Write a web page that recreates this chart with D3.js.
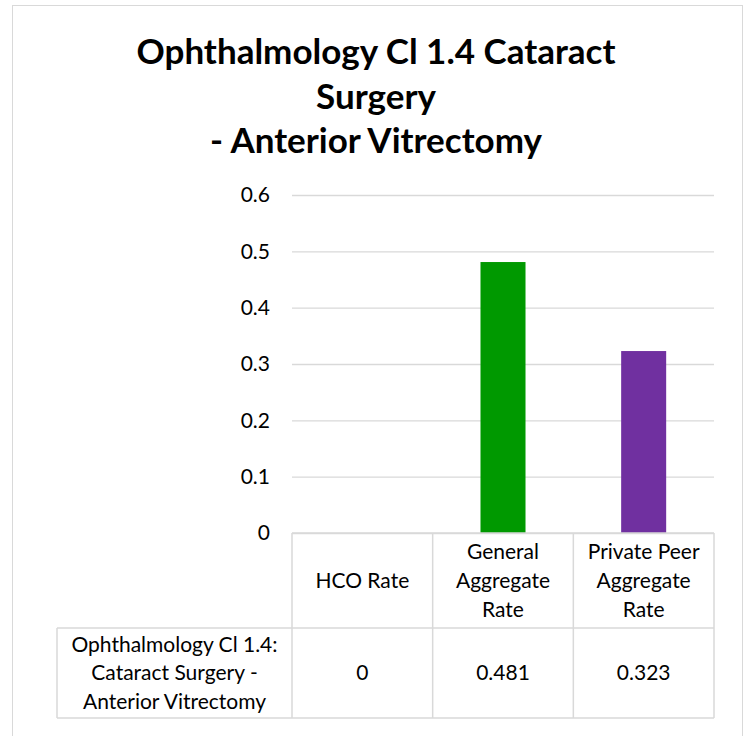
<!DOCTYPE html>
<html>
<head>
<meta charset="utf-8">
<script src="https://cdn.jsdelivr.net/npm/d3@7"></script>
<style>
  body { margin: 0; background: #fff; }
  svg text { font-family: Lato, "Open Sans", sans-serif; fill: #000; }
</style>
</head>
<body>
<div class="chart"></div>
<script>
// data
const titleLines = ["Ophthalmology Cl 1.4 Cataract", "Surgery", "- Anterior Vitrectomy"];
const categories = ["HCO Rate", "General Aggregate Rate", "Private Peer Aggregate Rate"];
const headerLines = [["HCO Rate"], ["General", "Aggregate", "Rate"], ["Private Peer", "Aggregate", "Rate"]];
const values = [0, 0.481, 0.323];
const valueLabels = ["0", "0.481", "0.323"];
const seriesLines = ["Ophthalmology Cl 1.4:", "Cataract Surgery -", "Anterior Vitrectomy"];
const barColors = ["#4472c4", "#009900", "#7030a0"];
const yTicks = [0, 0.1, 0.2, 0.3, 0.4, 0.5, 0.6];

// layout
const outWidth = 748, outHeight = 736;
const plot = {left: 292, right: 714, top: 195, bottom: 533};
const tbl = {left: 57, headBottom: 628, bottom: 718};
const gridCol = "#d9d9d9";

const svg = d3.select(".chart").append("svg")
    .attr("width", outWidth)
    .attr("height", outHeight);

// outer chart border
svg.append("rect")
    .attr("x", 12.5).attr("y", 5.5)
    .attr("width", 730).attr("height", 740)
    .attr("fill", "none")
    .attr("stroke", gridCol);

// title
svg.append("g").selectAll("text")
    .data(titleLines)
    .join("text")
    .attr("x", 376)
    .attr("y", (d, i) => 64 + i * 44.5)
    .attr("text-anchor", "middle")
    .attr("font-size", 35)
    .attr("font-weight", "bold")
    .text(d => d);

// scales
const y = d3.scaleLinear()
    .domain([0, 0.6])
    .range([plot.bottom, plot.top]);

const x = d3.scaleBand()
    .domain(categories)
    .range([plot.left, plot.right])
    .paddingInner(0.68)
    .paddingOuter(0.34);

const col = d3.scaleBand()
    .domain(categories)
    .range([plot.left, plot.right]);

const fs = 21, lh = 28.7;

// y axis + gridlines
const yAxis = svg.append("g")
    .attr("transform", `translate(${plot.left},0)`)
    .call(d3.axisLeft(y)
        .tickValues(yTicks)
        .tickSize(-(plot.right - plot.left))
        .tickPadding(22)
        .tickFormat(d => d === 0 ? "0" : d.toFixed(1)));
yAxis.select(".domain").remove();
yAxis.selectAll(".tick line").attr("stroke", gridCol).attr("stroke-width", 1.3);
yAxis.selectAll(".tick text")
    .attr("font-size", fs)
    .attr("font-family", "Lato, sans-serif")
    .attr("fill", "#000");

// bars
svg.append("g").selectAll("rect")
    .data(values)
    .join("rect")
    .attr("x", (d, i) => x(categories[i]))
    .attr("width", x.bandwidth())
    .attr("y", d => y(d))
    .attr("height", d => y(0) - y(d))
    .attr("fill", (d, i) => barColors[i]);

// data table
const t = svg.append("g").attr("stroke", gridCol).attr("stroke-width", 1.5);
// horizontal lines
t.append("line").attr("x1", plot.left).attr("x2", plot.right).attr("y1", plot.bottom).attr("y2", plot.bottom);
t.append("line").attr("x1", tbl.left).attr("x2", plot.right).attr("y1", tbl.headBottom).attr("y2", tbl.headBottom);
t.append("line").attr("x1", tbl.left).attr("x2", plot.right).attr("y1", tbl.bottom).attr("y2", tbl.bottom);
// vertical lines
t.append("line").attr("x1", tbl.left).attr("x2", tbl.left).attr("y1", tbl.headBottom).attr("y2", tbl.bottom);
t.selectAll("line.col")
    .data(categories.concat(["end"]))
    .join("line")
    .attr("class", "col")
    .attr("x1", d => d === "end" ? plot.right : col(d))
    .attr("x2", d => d === "end" ? plot.right : col(d))
    .attr("y1", plot.bottom)
    .attr("y2", tbl.bottom);

// header cells
const head = svg.append("g").selectAll("g")
    .data(headerLines)
    .join("g");
head.each(function(lines, i) {
    const cx = col(categories[i]) + col.bandwidth() / 2;
    const cy = (plot.bottom + tbl.headBottom) / 2;
    d3.select(this).selectAll("text")
        .data(lines)
        .join("text")
        .attr("x", cx)
        .attr("y", (d, j) => cy + (j - (lines.length - 1) / 2) * lh)
        .attr("dy", "0.35em")
        .attr("text-anchor", "middle")
        .attr("font-size", fs)
        .text(d => d);
});

// series label cell
const rowMid = (tbl.headBottom + tbl.bottom) / 2;
svg.append("g").selectAll("text")
    .data(seriesLines)
    .join("text")
    .attr("x", (tbl.left + plot.left) / 2)
    .attr("y", (d, j) => rowMid + (j - 1) * lh)
    .attr("dy", "0.35em")
    .attr("text-anchor", "middle")
    .attr("font-size", fs)
    .text(d => d);

// value cells
svg.append("g").selectAll("text")
    .data(valueLabels)
    .join("text")
    .attr("x", (d, i) => col(categories[i]) + col.bandwidth() / 2)
    .attr("y", rowMid)
    .attr("dy", "0.35em")
    .attr("text-anchor", "middle")
    .attr("font-size", fs)
    .text(d => d);
</script>
</body>
</html>
